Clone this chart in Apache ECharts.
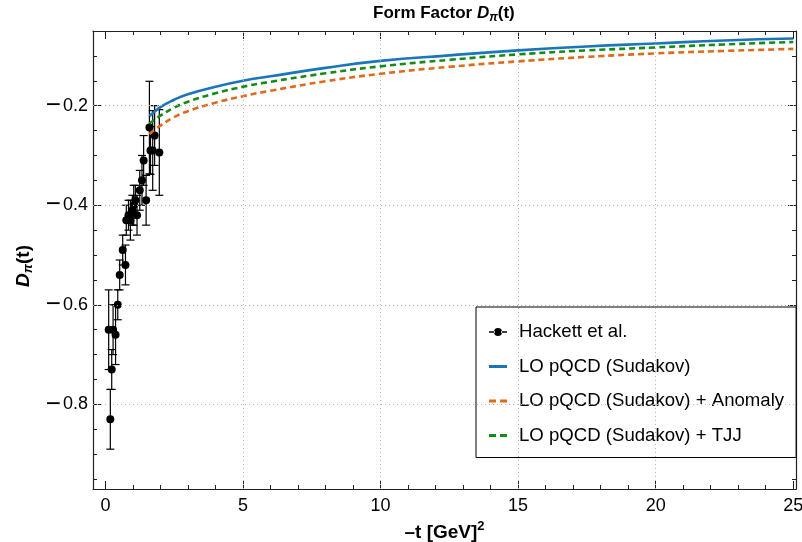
<!DOCTYPE html>
<html>
<head>
<meta charset="utf-8">
<script src="https://cdn.jsdelivr.net/npm/echarts@6/dist/echarts.min.js"></script>
<style>
  html, body { margin: 0; padding: 0; background: #fff; }
  #chart { width: 802px; height: 542px; }
</style>
</head>
<body>
<div id="chart"></div>
<script>
// Hackett et al. lattice points: -t, D_pi(t), error
const hackettT   = [0.12, 0.18, 0.23, 0.28, 0.37, 0.45, 0.52, 0.63, 0.73, 0.76, 0.84, 0.91, 0.98, 1.03, 1.09, 1.15, 1.25, 1.33, 1.39, 1.48, 1.60, 1.64, 1.72, 1.79, 1.96];
const hackettD   = [-0.65, -0.83, -0.73, -0.65, -0.66, -0.60, -0.54, -0.49, -0.52, -0.43, -0.42, -0.43, -0.41, -0.40, -0.39, -0.42, -0.37, -0.35, -0.31, -0.39, -0.244, -0.29, -0.29, -0.26, -0.294];
const hackettErr = [0.08, 0.06, 0.04, 0.05, 0.06, 0.03, 0.03, 0.03, 0.04, 0.03, 0.03, 0.04, 0.03, 0.04, 0.03, 0.04, 0.04, 0.05, 0.05, 0.05, 0.093, 0.048, 0.08, 0.06, 0.086];

// pQCD curves
const curveT   = [1.6, 2, 2.5, 3, 4, 5, 6, 8, 10, 12.5, 15, 17.5, 20, 22.5, 25];
const sudakov  = [-0.221, -0.203, -0.188, -0.177, -0.162, -0.150, -0.141, -0.124, -0.110, -0.099, -0.089, -0.081, -0.075, -0.069, -0.065];
const anomaly  = [-0.257, -0.240, -0.223, -0.211, -0.194, -0.181, -0.170, -0.151, -0.136, -0.122, -0.111, -0.102, -0.095, -0.090, -0.086];
const tjj      = [-0.236, -0.220, -0.204, -0.192, -0.175, -0.162, -0.152, -0.135, -0.121, -0.108, -0.097, -0.089, -0.083, -0.077, -0.072];

// ticks
const xMajor = [0, 5, 10, 15, 20, 25];
const xMinor = [1, 2, 3, 4, 6, 7, 8, 9, 11, 12, 13, 14, 16, 17, 18, 19, 21, 22, 23, 24];
const yMajor = [-0.8, -0.6, -0.4, -0.2];
const yMinor = [-0.95, -0.9, -0.85, -0.75, -0.7, -0.65, -0.55, -0.5, -0.45, -0.35, -0.3, -0.25, -0.15, -0.1];
const xGrid = [5, 10, 15, 20];
const yGrid = [-0.8, -0.6, -0.4, -0.2];

const X_MIN = -0.45, X_MAX = 25.1;
const Y_MIN = -0.97, Y_MAX = -0.05;
const FONT = '"Liberation Sans", Arial, sans-serif';
const FRAME = '#222';

const blue = '#1b75bb';
const orange = '#de6a1c';
const green = '#168a16';

var chart = echarts.init(document.getElementById('chart'));

function xAx(pos, ticks, len, labels, line) {
  return {
    type: 'value', min: X_MIN, max: X_MAX, position: pos,
    axisLine: { show: line, onZero: false, lineStyle: { color: FRAME, width: 1.2 } },
    axisTick: { show: true, inside: true, length: len, customValues: ticks, lineStyle: { color: FRAME } },
    axisLabel: { show: labels, customValues: ticks, color: '#000', fontSize: 18, fontFamily: FONT, margin: 8 },
    splitLine: { show: false }, minorSplitLine: { show: false }
  };
}
function yAx(pos, ticks, len, labels, line) {
  return {
    type: 'value', min: Y_MIN, max: Y_MAX, position: pos,
    axisLine: { show: line, onZero: false, lineStyle: { color: FRAME, width: 1.2 } },
    axisTick: { show: true, inside: true, length: len, customValues: ticks, lineStyle: { color: FRAME } },
    axisLabel: { show: labels, customValues: ticks, color: '#000', fontSize: 18, fontFamily: FONT, margin: 5,
                 formatter: v => '{m|\u2212}' + Math.abs(v).toFixed(1),
                 rich: { m: { fontSize: 26, fontFamily: FONT, color: '#000', padding: [0, 2, 0, 0] } } },
    splitLine: { show: false }, minorSplitLine: { show: false }
  };
}

let xAxes = [xAx('bottom', xMajor, 8, true, true), xAx('bottom', xMinor, 4, false, false),
             xAx('top', xMajor, 8, false, true), xAx('top', xMinor, 4, false, false)];
let yAxes = [yAx('left', yMajor, 8, true, true), yAx('left', yMinor, 4, false, false),
             yAx('right', yMajor, 8, false, true), yAx('right', yMinor, 4, false, false)];

xAxes[0].name = '{b|\u2013t [GeV]}{sup|2}';
xAxes[0].nameLocation = 'middle';
xAxes[0].nameGap = 22;
xAxes[0].nameTextStyle = {
  rich: {
    b: { fontSize: 19, fontWeight: 'bold', fontFamily: FONT, color: '#000' },
    sup: { fontSize: 13, fontWeight: 'bold', fontFamily: FONT, color: '#000', padding: [0, 0, 13, 0] }
  }
};
yAxes[0].name = '{d|D}{s|\u03c0}{b|(t)}';
yAxes[0].nameLocation = 'middle';
yAxes[0].nameRotate = 90;
yAxes[0].nameGap = 58;
yAxes[0].nameTextStyle = {
  padding: [0, 12, 0, 0],
  rich: {
    d: { fontSize: 19, fontWeight: 'bold', fontStyle: 'italic', fontFamily: FONT, color: '#000' },
    s: { fontSize: 13, fontWeight: 'bold', fontStyle: 'italic', fontFamily: FONT, color: '#000', padding: [9, 0, 0, 0] },
    b: { fontSize: 19, fontWeight: 'bold', fontFamily: FONT, color: '#000' }
  }
};

let pts = hackettT.map((t, i) => [t, hackettD[i], hackettErr[i]]);

function lineData(ys) { return curveT.map((t, i) => [t, ys[i]]); }

let option = {
  animation: false,
  backgroundColor: '#fff',
  grid: { left: 93, right: 6, top: 31, bottom: 53, containLabel: false, outerBoundsMode: 'none' },
  graphic: [{
    type: 'text', left: 445 - 72, top: 5,
    style: {
      text: '{b|Form Factor }{d|D}{s|\u03c0}{b|(t)}',
      rich: {
        b: { fontSize: 17, fontWeight: 'bold', fontFamily: FONT, fill: '#000' },
        d: { fontSize: 17, fontWeight: 'bold', fontStyle: 'italic', fontFamily: FONT, fill: '#000' },
        s: { fontSize: 12, fontWeight: 'bold', fontStyle: 'italic', fontFamily: FONT, fill: '#000', padding: [8, 0, 0, 0] }
      }
    }
  }],
  legend: {
    orient: 'vertical', left: 476, top: 307,
    padding: [14, 12, 11, 13],
    itemGap: 12.5, itemWidth: 18, itemHeight: 14,
    backgroundColor: '#fff', borderColor: '#000', borderWidth: 1,
    textStyle: { fontSize: 18.6, lineHeight: 22, fontFamily: FONT, color: '#000', padding: [0, 0, 0, 7] },
    data: [
      { name: 'Hackett et al.', icon: 'path://M0,3.2h6v1.6h-6z M12,3.2h6v1.6h-6z M13,4a4,4 0 1,0 -8,0a4,4 0 1,0 8,0z' },
      { name: 'LO pQCD (Sudakov)', icon: 'path://M0,0h18v3h-18z' },
      { name: 'LO pQCD (Sudakov) + Anomaly', icon: 'path://M0,0h7v3h-7z M11,0h7v3h-7z' },
      { name: 'LO pQCD (Sudakov) + TJJ', icon: 'path://M0,0h7v3h-7z M11,0h7v3h-7z' }
    ]
  },
  xAxis: xAxes,
  yAxis: yAxes,
  series: [
    {
      name: 'err', type: 'custom', xAxisIndex: 0, yAxisIndex: 0,
      data: pts, encode: { x: 0, y: 1 },
      renderItem: function (params, api) {
        const x = api.value(0), y = api.value(1), e = api.value(2);
        const top = api.coord([x, y + e]);
        const bot = api.coord([x, y - e]);
        const w = 4;
        const st = { stroke: '#000', lineWidth: 1.2 };
        return {
          type: 'group', children: [
            { type: 'line', shape: { x1: top[0], y1: top[1], x2: bot[0], y2: bot[1] }, style: st },
            { type: 'line', shape: { x1: top[0] - w, y1: top[1], x2: top[0] + w, y2: top[1] }, style: st },
            { type: 'line', shape: { x1: bot[0] - w, y1: bot[1], x2: bot[0] + w, y2: bot[1] }, style: st }
          ]
        };
      },
      markLine: {
        silent: true, symbol: ['none', 'none'], label: { show: false },
        lineStyle: { color: '#b4b4b4', type: [1, 3], width: 1 },
        emphasis: { disabled: true },
        data: xGrid.map(v => ({ xAxis: v })).concat(yGrid.map(v => ({ yAxis: v })))
      }
    },
    {
      name: 'Hackett et al.', type: 'scatter', data: pts.map(p => [p[0], p[1]]),
      symbol: 'circle', symbolSize: 8, itemStyle: { color: '#000', opacity: 1 }
    },
    {
      name: 'LO pQCD (Sudakov)', type: 'line', data: lineData(sudakov), smooth: true,
      symbol: 'none', lineStyle: { color: blue, width: 2.6 }, itemStyle: { color: blue }
    },
    {
      name: 'LO pQCD (Sudakov) + Anomaly', type: 'line', data: lineData(anomaly), smooth: true,
      symbol: 'none', lineStyle: { color: orange, width: 2.6, type: [6, 4] }, itemStyle: { color: orange }
    },
    {
      name: 'LO pQCD (Sudakov) + TJJ', type: 'line', data: lineData(tjj), smooth: true,
      symbol: 'none', lineStyle: { color: green, width: 2.6, type: [6, 4] }, itemStyle: { color: green }
    }
  ]
};
chart.setOption(option);
</script>
</body>
</html>
